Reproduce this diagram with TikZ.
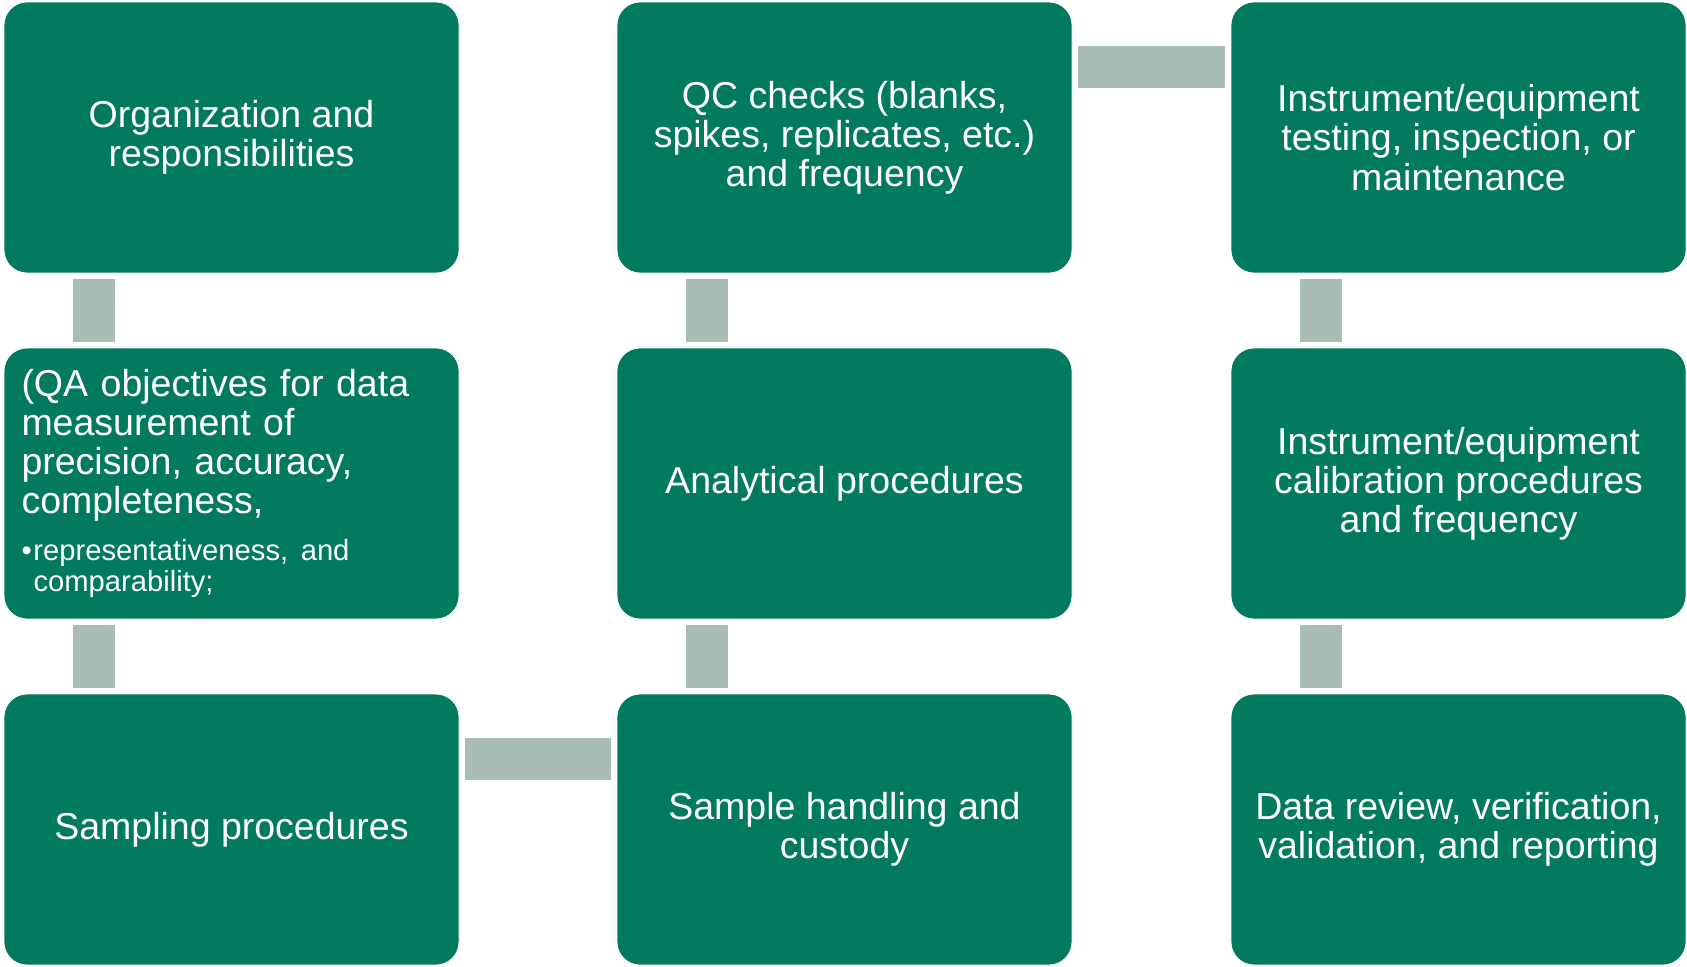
\documentclass[tikz,border=0pt]{standalone}
\usepackage{fontspec}
\setmainfont{Liberation Sans}
\usepackage{xcolor}
\usepackage{tikz}
\usetikzlibrary{positioning,calc}
\definecolor{PlanGreen}{HTML}{017A5E}
\definecolor{LinkGrey}{HTML}{AABDB4}

\begin{document}
\begin{tikzpicture}[
  x=1pt,y=1pt,
  stage/.style={rounded corners=11.5pt,draw=white,line width=0.4pt,fill=PlanGreen,
    minimum width=227.5pt,minimum height=135.5pt,outer sep=0pt,inner sep=0pt,
    text=white,align=center,font=\fontsize{18.75pt}{19.6pt}\selectfont},
  link/.style={LinkGrey,line width=21pt,line cap=butt}
]
\useasboundingbox (0,0) rectangle (843.5,-483);

% first column
\node[stage] (org) at (115.75,-68.75) {Organization and\\responsibilities};
\node[stage,text width=210pt,align=left] (qa) at (115.75,-241.75) {%
  (QA objectives for data\\measurement of\\precision, accuracy,\\completeness,\\[4pt]
  \parbox[t]{210pt}{\fontsize{14.6pt}{15.5pt}\selectfont\frenchspacing\raggedright
    \hangindent=6pt\hangafter=1
    \makebox[6pt][l]{\textbullet}representativeness, and\newline comparability;}};
\node[stage] (samp) at (115.75,-414.75) {Sampling procedures};

% second column
\node[stage] (qc) at (422.25,-68.75) {QC checks (blanks,\\spikes, replicates, etc.)\\and frequency};
\node[stage] (anal) at (422.25,-241.75) {Analytical procedures};
\node[stage] (handl) at (422.25,-414.75) {Sample handling and\\custody};

% third column
\node[stage] (insttest) at (729.25,-68.75) {Instrument/equipment\\testing, inspection, or\\maintenance};
\node[stage] (instcal) at (729.25,-241.75) {Instrument/equipment\\calibration procedures\\and frequency};
\node[stage] (review) at (729.25,-414.75) {Data review, verification,\\validation, and reporting};

% grey links, in reading order
\draw[link] ([xshift=45pt,yshift=-3pt]org.south west) -- ([xshift=45pt,yshift=3pt]qa.north west);
\draw[link] ([xshift=45pt,yshift=-3pt]qa.south west) -- ([xshift=45pt,yshift=3pt]samp.north west);
\draw[link] ([xshift=3pt,yshift=-32.5pt]samp.north east) -- ([xshift=-3pt,yshift=-32.5pt]handl.north west);
\draw[link] ([xshift=45pt,yshift=3pt]handl.north west) -- ([xshift=45pt,yshift=-3pt]anal.south west);
\draw[link] ([xshift=45pt,yshift=3pt]anal.north west) -- ([xshift=45pt,yshift=-3pt]qc.south west);
\draw[link] ([xshift=3pt,yshift=-32.5pt]qc.north east) -- ([xshift=-3pt,yshift=-32.5pt]insttest.north west);
\draw[link] ([xshift=45pt,yshift=-3pt]insttest.south west) -- ([xshift=45pt,yshift=3pt]instcal.north west);
\draw[link] ([xshift=45pt,yshift=-3pt]instcal.south west) -- ([xshift=45pt,yshift=3pt]review.north west);
\end{tikzpicture}
\end{document}
